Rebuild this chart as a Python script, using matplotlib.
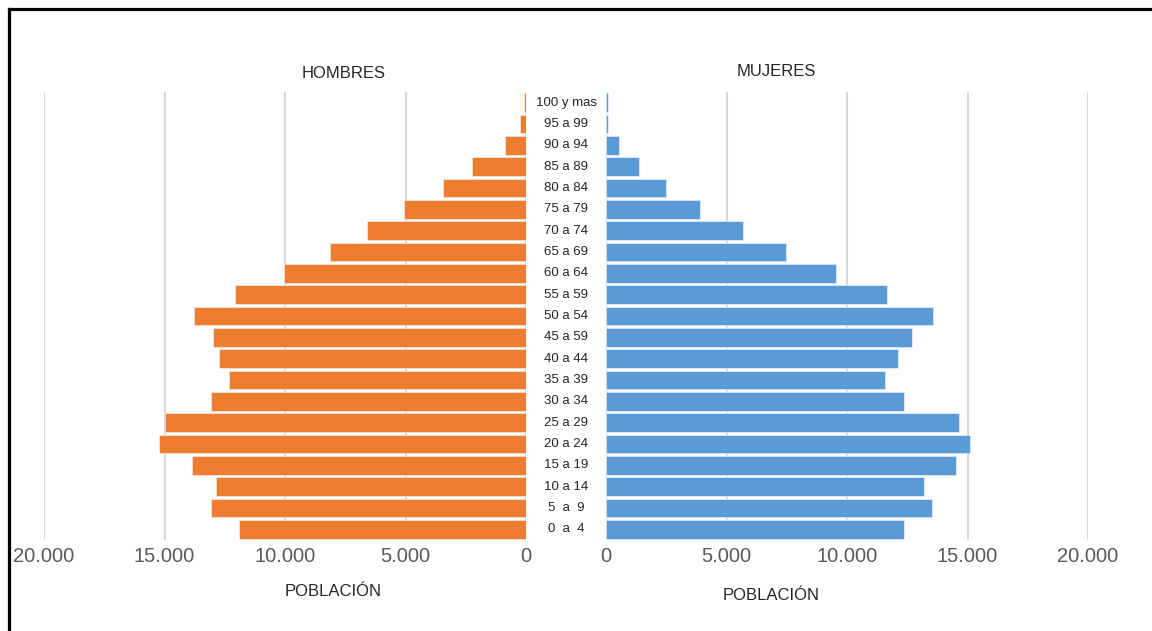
import numpy as np
import matplotlib
matplotlib.use("Agg")
import matplotlib.pyplot as plt
from matplotlib.lines import Line2D
from matplotlib.ticker import FuncFormatter
from matplotlib.transforms import blended_transform_factory

# Age groups, oldest first (top of the pyramid)
edades = ["100 y mas", "95 a 99", "90 a 94", "85 a 89", "80 a 84", "75 a 79",
          "70 a 74", "65 a 69", "60 a 64", "55 a 59", "50 a 54", "45 a 59",
          "40 a 44", "35 a 39", "30 a 34", "25 a 29", "20 a 24", "15 a 19",
          "10 a 14", "5  a  9", "0  a  4"]

hombres = [90, 230, 880, 2250, 3460, 5060, 6600, 8130, 10060, 12080, 13770,
           12970, 12720, 12330, 13050, 15000, 15230, 13850, 12880, 13050, 11920]

mujeres = [80, 90, 530, 1360, 2470, 3910, 5690, 7470, 9560, 11650, 13570,
           12700, 12130, 11570, 12380, 14640, 15110, 14540, 13190, 13510, 12380]

ticks = [0, 5000, 10000, 15000, 20000]

naranja = "#ED7D31"
azul = "#5B9BD5"
gris_grid = "#D9D9D9"
gris_txt = "#595959"
fuente = ["Liberation Sans", "DejaVu Sans"]

W, H = 1152, 631
fig = plt.figure(figsize=(W / 100, H / 100), dpi=100)

# axes placed in pixel units -> figure fraction
def px_axes(x0, x1, y_top, y_bot):
    return fig.add_axes([x0 / W, 1 - y_bot / H, (x1 - x0) / W, (y_bot - y_top) / H])

ax_l = px_axes(44, 526, 92, 540)
ax_r = px_axes(606, 1088, 92, 540)

y = np.arange(len(edades))[::-1]
fmt = FuncFormatter(lambda v, p: f"{int(v):,}".replace(",", "."))

for ax, vals, col in [(ax_l, hombres, naranja), (ax_r, mujeres, azul)]:
    ax.barh(y, vals, height=0.86, color=col, edgecolor="#F4F8FC", linewidth=0.4, zorder=3)
    ax.set_xlim(0, 20000)
    ax.set_ylim(-0.5, len(edades) - 0.5)
    ax.set_xticks(ticks)
    ax.xaxis.set_major_formatter(fmt)
    ax.set_yticks([])
    ax.grid(axis="x", color=gris_grid, linewidth=1.5, zorder=0)
    ax.tick_params(axis="x", length=0, pad=5, labelsize=14.5, labelcolor=gris_txt)
    for s in ax.spines.values():
        s.set_visible(False)
    for lab in ax.get_xticklabels():
        lab.set_family(fuente)

ax_l.invert_xaxis()

# age labels in the gap between both halves
tr = blended_transform_factory(fig.transFigure, ax_l.transData)
for yi, lab in zip(y, edades):
    ax_l.text(566 / W, yi, lab, transform=tr, ha="center", va="center",
              fontsize=9.5, family=fuente, color="#262626", clip_on=False)

fig.text(344 / W, 1 - 74 / H, "HOMBRES", ha="center", va="center", fontsize=12,
         family=fuente, color="#262626")
fig.text(776 / W, 1 - 71 / H, "MUJERES", ha="center", va="center", fontsize=12,
         family=fuente, color="#262626")
fig.text(333 / W, 1 - 592 / H, "POBLACIÓN", ha="center", va="center", fontsize=12,
         family=fuente, color="#262626")
fig.text(771 / W, 1 - 595 / H, "POBLACIÓN", ha="center", va="center", fontsize=12,
         family=fuente, color="#262626")

# frame lines (left and top only)
fig.add_artist(Line2D([9 / W, 9 / W], [0, 1 - 9 / H], transform=fig.transFigure,
                      color="black", linewidth=2.3))
fig.add_artist(Line2D([9 / W, 1], [1 - 9 / H, 1 - 9 / H], transform=fig.transFigure,
                      color="black", linewidth=2.3))

fig.savefig("out.png", dpi=100)
